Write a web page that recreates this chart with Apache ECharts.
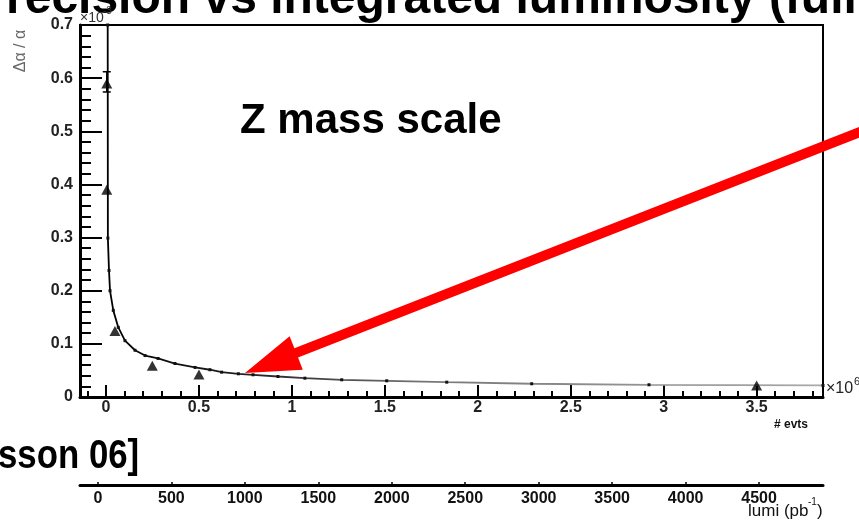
<!DOCTYPE html>
<html>
<head>
<meta charset="utf-8">
<script src="https://cdn.jsdelivr.net/npm/echarts@6/dist/echarts.min.js"></script>
<style>
  html, body { margin: 0; padding: 0; background: #fff; }
  #c { width: 859px; height: 524px; }
</style>
</head>
<body>
<div id="c"></div>
<script>
// Precision on the Z mass scale (units of 1e-3) versus number of events (units of 1e6)
const curveEvts = [0.009, 0.010, 0.016, 0.0215, 0.039, 0.066, 0.102, 0.156, 0.21, 0.28, 0.371, 0.479,
                   0.559, 0.622, 0.712, 0.791, 0.925, 1.07, 1.268, 1.51, 1.833, 2.29, 2.921, 3.857];
const curvePrecision = [0.70, 0.299, 0.238, 0.200, 0.163, 0.131, 0.106, 0.088, 0.078, 0.0725, 0.063, 0.0556,
                        0.0513, 0.0467, 0.0437, 0.0418, 0.0386, 0.0354, 0.0324, 0.0305, 0.0279, 0.0249, 0.023, 0.0217];

// Individual fit results
const pointEvts = [0.004, 0.004, 0.048, 0.249, 0.5, 3.5];
const pointPrecision = [0.590, 0.390, 0.124, 0.0588, 0.0424, 0.0217];

// Uncertainty on the first fit result
const errEvts = [0.004];
const errLow = [0.574];
const errHigh = [0.612];

// Axis tick labels
const evtTicks = [0, 0.5, 1, 1.5, 2, 2.5, 3, 3.5];
const precisionTicks = [0, 0.1, 0.2, 0.3, 0.4, 0.5, 0.6, 0.7];
const lumiTicks = [0, 500, 1000, 1500, 2000, 2500, 3000, 3500, 4000, 4500];

// minor ticks on the event axis, every 0.1
const evtMinorTicks = [];
for (let i = -1; i <= 38; i++) {
  if (i % 5 !== 0) evtMinorTicks.push(+(i / 10).toFixed(1));
}

const FONT = '"Liberation Sans", Arial, Helvetica, sans-serif';
const NARROW = '"Liberation Sans Narrow", "Liberation Sans", Arial, sans-serif';

const chart = echarts.init(document.getElementById('c'), null, { renderer: 'canvas' });

const evtMin = -0.14, evtMax = 3.857;

// red arrow geometry
function arrowPoints() {
  const tip = [245, 373];
  const ux = 0.931, uy = -0.365;   // direction from tip back along the shaft
  const nx = 0.365, ny = 0.931;    // normal
  const headLen = 55, headHalf = 18, shaftHalf = 5, shaftLen = 720;
  const bx = tip[0] + headLen * ux, by = tip[1] + headLen * uy;
  const fx = tip[0] + shaftLen * ux, fy = tip[1] + shaftLen * uy;
  return [
    tip,
    [bx + headHalf * nx, by + headHalf * ny],
    [bx + shaftHalf * nx, by + shaftHalf * ny],
    [fx + shaftHalf * nx, fy + shaftHalf * ny],
    [fx - shaftHalf * nx, fy - shaftHalf * ny],
    [bx - shaftHalf * nx, by - shaftHalf * ny],
    [bx - headHalf * nx, by - headHalf * ny]
  ];
}

const option = {
  animation: false,
  backgroundColor: '#fff',
  grid: {
    left: 80, top: 25, right: 36, bottom: 127,
    show: true, borderColor: '#000', borderWidth: 2, backgroundColor: 'transparent'
  },
  xAxis: [
    {
      type: 'value', min: evtMin, max: evtMax, position: 'bottom',
      axisLine: { show: true, onZero: false, lineStyle: { color: '#000', width: 3 } },
      axisTick: { show: true, inside: true, length: 12, customValues: evtTicks,
                  lineStyle: { color: '#000', width: 2 } },
      axisLabel: { show: true, customValues: evtTicks, margin: 3,
                   formatter: v => String(v), fontFamily: FONT, fontWeight: 'bold',
                   fontSize: 16, color: '#222' },
      splitLine: { show: false }
    },
    {
      type: 'value', min: evtMin, max: evtMax, position: 'bottom',
      axisLine: { show: false },
      axisTick: { show: true, inside: true, length: 6, customValues: evtMinorTicks,
                  lineStyle: { color: '#000', width: 2 } },
      axisLabel: { show: false },
      splitLine: { show: false }
    },
    {
      type: 'value', min: -122, max: 4935, position: 'bottom', offset: 88,
      axisLine: { show: true, onZero: false, lineStyle: { color: '#000', width: 3 } },
      axisTick: { show: true, inside: true, length: 3, customValues: lumiTicks,
                  lineStyle: { color: '#000', width: 1.5 } },
      axisLabel: { show: true, customValues: lumiTicks, margin: 6,
                   formatter: v => String(v), fontFamily: FONT, fontWeight: 'bold',
                   fontSize: 16, color: '#111' },
      splitLine: { show: false }
    }
  ],
  yAxis: {
    type: 'value', min: 0, max: 0.7, interval: 0.1,
    axisLine: { show: true, onZero: false, lineStyle: { color: '#000', width: 3 } },
    axisTick: { show: true, inside: true, length: 22, lineStyle: { color: '#000', width: 2 } },
    minorTick: { show: true, splitNumber: 5, length: 11, lineStyle: { color: '#000', width: 2 } },
    axisLabel: { margin: 7, fontFamily: FONT, fontWeight: 'bold', fontSize: 16, color: '#222',
                 formatter: v => {
                   const t = precisionTicks.find(p => Math.abs(p - v) < 1e-9);
                   return t === 0 ? '0' : (t !== undefined ? t.toFixed(1) : '');
                 } },
    splitLine: { show: false },
    minorSplitLine: { show: false }
  },
  series: [
    {
      type: 'line',
      xAxisIndex: 0,
      data: curveEvts.map((x, i) => [x, curvePrecision[i]]),
      showSymbol: true,
      symbol: 'rect',
      symbolSize: 3,
      itemStyle: { color: '#111' },
      lineStyle: {
        width: 1.8,
        color: new echarts.graphic.LinearGradient(0, 0, 1, 0, [
          { offset: 0, color: '#000' },
          { offset: 0.2, color: '#222' },
          { offset: 0.45, color: '#777' },
          { offset: 1, color: '#aaa' }
        ])
      },
      clip: true,
      z: 3
    },
    {
      type: 'scatter',
      xAxisIndex: 0,
      data: pointEvts.map((x, i) => [x, pointPrecision[i]]),
      symbol: 'triangle',
      symbolSize: [11, 10],
      itemStyle: { color: '#000' },
      z: 4
    },
    {
      type: 'custom',
      xAxisIndex: 0,
      data: errEvts.map((x, i) => [x, errLow[i], errHigh[i]]),
      encode: { x: 0, y: [1, 2] },
      renderItem: (params, api) => {
        const x = api.value(0);
        const lo = api.coord([x, api.value(1)]);
        const hi = api.coord([x, api.value(2)]);
        const cap = 4;
        const st = { stroke: '#000', lineWidth: 1.5 };
        return {
          type: 'group',
          children: [
            { type: 'line', shape: { x1: lo[0], y1: lo[1], x2: hi[0], y2: hi[1] }, style: st },
            { type: 'line', shape: { x1: hi[0] - cap, y1: hi[1], x2: hi[0] + cap, y2: hi[1] }, style: st },
            { type: 'line', shape: { x1: lo[0] - cap, y1: lo[1], x2: lo[0] + cap, y2: lo[1] }, style: st }
          ]
        };
      },
      z: 4
    }
  ],
  graphic: [
    {
      type: 'text', x: -26, y: 24, z: 10,
      style: { text: 'Precision vs integrated luminosity (full', fill: '#000',
               font: 'bold 48px ' + FONT, verticalAlign: 'bottom' }
    },
    {
      type: 'text', x: 240, y: 121, z: 10,
      style: { text: 'Z mass scale', fill: '#000', font: 'bold 42px ' + FONT, verticalAlign: 'middle' }
    },
    {
      type: 'text', x: -2, y: 457, scaleX: 0.87, z: 10,
      style: { text: 'sson 06]', fill: '#000', font: 'bold 40px ' + FONT, verticalAlign: 'middle' }
    },
    {
      type: 'text', x: 80, y: 18, z: 12,
      style: { text: '×10', fill: '#333', font: '14px ' + FONT, verticalAlign: 'middle' }
    },
    {
      type: 'text', x: 103, y: 11, z: 12,
      style: { text: '-3', fill: '#333', font: '10px ' + FONT, verticalAlign: 'middle' }
    },
    {
      type: 'text', x: 826, y: 389, z: 12,
      style: { text: '×10', fill: '#222', font: '16px ' + FONT, verticalAlign: 'middle' }
    },
    {
      type: 'text', x: 854, y: 382, z: 12,
      style: { text: '6', fill: '#222', font: '11px ' + FONT, verticalAlign: 'middle' }
    },
    {
      type: 'text', x: 808, y: 425, z: 12,
      style: { text: '# evts', fill: '#111', font: 'bold 12px ' + NARROW, align: 'right', verticalAlign: 'middle' }
    },
    {
      type: 'text', x: 748, y: 511, z: 12,
      style: { text: 'lumi (pb', fill: '#111', font: '17px ' + NARROW, verticalAlign: 'middle' }
    },
    {
      type: 'text', x: 808, y: 502, z: 12,
      style: { text: '-1', fill: '#111', font: '10px ' + NARROW, verticalAlign: 'middle' }
    },
    {
      type: 'text', x: 817, y: 511, z: 12,
      style: { text: ')', fill: '#111', font: '17px ' + NARROW, verticalAlign: 'middle' }
    },
    {
      type: 'text', x: 21, y: 51, rotation: Math.PI / 2, z: 12,
      style: { text: 'Δα / α', fill: '#666', font: '16px ' + FONT, align: 'center', verticalAlign: 'middle' }
    },
    {
      type: 'polygon', z: 20,
      shape: { points: arrowPoints() },
      style: { fill: '#ff0000' }
    }
  ]
};

chart.setOption(option);
</script>
</body>
</html>
